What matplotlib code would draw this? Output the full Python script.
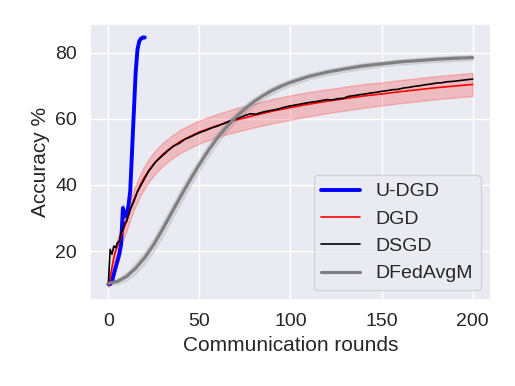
import numpy as np
import matplotlib
matplotlib.use('Agg')
import matplotlib.pyplot as plt
import seaborn as sns

sns.set_theme(style='darkgrid')
plt.rcParams['font.family'] = ['Liberation Sans', 'DejaVu Sans']

# U-DGD
udgd_x = list(range(21))
udgd_y = [10, 10, 10.8, 13, 15, 17, 19, 22, 33, 30.5, 31, 33.5, 38, 50, 62, 74, 81, 83.5, 84.3, 84.6, 84.6]
udgd_sd = [0.3, 0.4, 0.5, 0.6, 0.7, 0.8, 0.9, 1.0, 1.2, 1.0, 1.0, 1.0, 1.0, 1.0, 1.0, 0.8, 0.5, 0.4, 0.3, 0.3, 0.3]

# DGD
dgd_x = [0, 1, 2, 3, 4, 5, 6, 8, 10, 12, 14, 16, 18, 20, 23, 26, 30, 35, 40, 45, 50, 55, 60, 65, 70,
         75, 80, 90, 100, 110, 120, 130, 140, 150, 160, 170, 180, 190, 200]
dgd_y = [9.5, 12, 15, 18, 20, 21.5, 23, 26, 29, 32.5, 35.5, 38, 40.5, 42.5, 45, 47, 49.3, 51.5, 53.3, 54.7,
         56, 57, 58, 58.8, 59.6, 60.3, 61, 62.3, 63.4, 64.4, 65.3, 66.1, 66.9, 67.5, 68.2, 68.8, 69.4, 69.9, 70.4]
dgd_sd = [0.5, 1, 1.5, 2, 2, 2.3, 2.5, 2.8, 3, 3, 3.1, 3.2, 3.3, 3.4, 3.5, 3.5, 3.5, 3.5, 3.5, 3.5,
          3.5, 3.5, 3.5, 3.5, 3.6, 3.6, 3.6, 3.7, 3.7, 3.7, 3.6, 3.6, 3.6, 3.5, 3.5, 3.5, 3.5, 3.5, 3.5]

# DSGD
dsgd_x = [0, 1, 2, 3, 4, 5, 6, 7, 8, 9, 10, 12, 14, 16, 18, 20, 22, 24, 26, 28, 30, 33, 36, 39, 42, 45,
          48, 51, 54, 57, 60, 63, 66, 69, 72, 75, 78, 81, 84, 87, 90, 93, 96, 99, 102, 105, 108, 111, 114,
          117, 120, 123, 126, 129, 132, 135, 138, 141, 144, 147, 150, 153, 156, 159, 162, 165, 168, 171,
          174, 177, 180, 183, 186, 189, 192, 195, 198, 200]
dsgd_y = [10, 20.5, 19, 21.5, 21, 22.5, 23, 25.5, 26.5, 28.5, 29, 32.5, 35, 38, 40, 42, 44, 45.5, 47, 48,
          49, 50.5, 51.8, 52.6, 53.8, 54.5, 55.3, 56, 56.6, 57.3, 57.8, 58.5, 59.2, 59.8, 60.3, 61, 61.5,
          61.4, 61.9, 62.3, 62.6, 62.9, 63.4, 63.8, 64.1, 64.4, 64.7, 65, 65.2, 65.5, 65.8, 65.7, 66.1, 66.2,
          66.8, 67, 67.3, 67.5, 67.8, 68, 68.3, 68.5, 68.8, 68.9, 69.3, 69.5, 69.8, 70, 70.3, 70.5, 70.8,
          70.9, 71.2, 71.3, 71.5, 71.7, 71.9, 72]

# DFedAvgM
dfed_x = [0, 5, 10, 15, 20, 25, 30, 35, 40, 45, 50, 55, 60, 65, 70, 75, 80, 85, 90, 95, 100,
          110, 120, 130, 140, 150, 160, 170, 180, 190, 200]
dfed_y = [10.2, 10.8, 12.3, 14.8, 18, 22, 26.8, 31.8, 36.8, 41.6, 46.2, 50.5, 54.3, 57.6, 60.5, 63, 65.2,
          67, 68.6, 69.9, 71, 72.8, 74.1, 75.1, 76, 76.6, 77.2, 77.6, 78, 78.3, 78.5]
dfed_sd = [0.4, 0.8, 1.2, 1.6, 1.8, 2.0, 2.1, 2.1, 2.1, 2.0, 1.9, 1.8, 1.6, 1.5, 1.4, 1.3, 1.2, 1.1, 1.1,
           1.0, 1.0, 0.9, 0.9, 0.9, 0.9, 0.8, 0.8, 0.8, 0.8, 0.8, 0.8]

fig = plt.figure(figsize=(5.15, 3.86), dpi=100)
ax = fig.add_axes([0.175, 0.223, 0.778, 0.715])

def band(x, y, sd, color, alpha):
    y = np.array(y); sd = np.array(sd)
    ax.fill_between(x, y - sd, y + sd, color=color, alpha=alpha, linewidth=1)

band(udgd_x, udgd_y, udgd_sd, 'blue', 0.2)
band(dgd_x, dgd_y, dgd_sd, 'red', 0.2)
band(dfed_x, dfed_y, dfed_sd, 'gray', 0.18)

ax.plot(udgd_x, udgd_y, color='blue', lw=2.8, label='U-DGD')
ax.plot(dgd_x, dgd_y, color='red', lw=1.2, label='DGD')
ax.plot(dsgd_x, dsgd_y, color='black', lw=1.2, label='DSGD')
ax.plot(dfed_x, dfed_y, color='gray', lw=2.3, label='DFedAvgM')

ax.set_xticks([0, 50, 100, 150, 200])
ax.set_yticks([20, 40, 60, 80])
ax.tick_params(labelsize=14)
ax.set_xlabel('Communication rounds', fontsize=15)
ax.set_ylabel('Accuracy %', fontsize=15)
ax.legend(loc='lower right', fontsize=14)

fig.savefig('out.png', dpi=100)
